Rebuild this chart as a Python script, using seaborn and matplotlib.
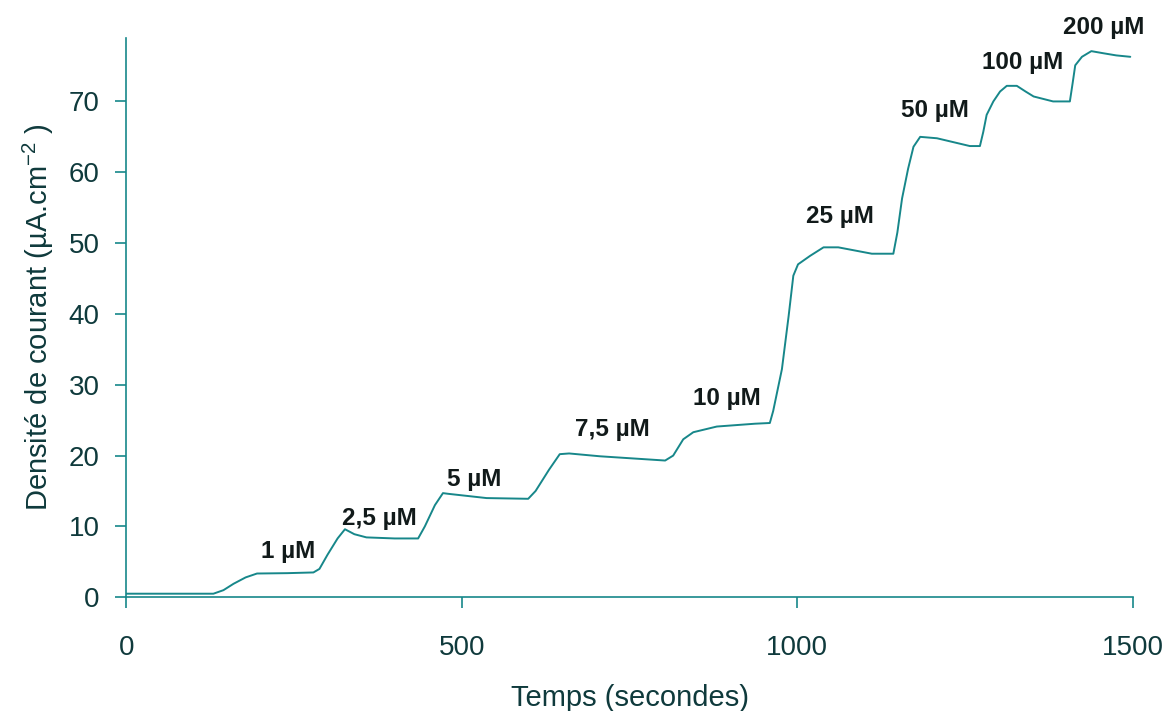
import numpy as np
import pandas as pd
import seaborn as sns
import matplotlib.pyplot as plt

# Chronoamperometry trace
temps = [0, 130, 145, 160, 178, 195, 240, 279, 288, 300, 315, 326, 340, 358,
         400, 435, 445, 460, 472, 480, 537, 599, 610, 630, 646, 660, 706, 803,
         815, 830, 845, 880, 937, 959, 964, 977, 987, 994, 1001, 1019, 1039,
         1061, 1111, 1143, 1149, 1156, 1165, 1173, 1183, 1208, 1257, 1272,
         1277, 1282, 1292, 1302, 1312, 1327, 1340, 1352, 1381, 1406, 1410,
         1414, 1424, 1438, 1456, 1475, 1496]
courant = [0.5, 0.5, 1.0, 1.9, 2.8, 3.35, 3.4, 3.5, 4.0, 6.0, 8.3, 9.6, 8.9,
           8.45, 8.3, 8.3, 10.0, 13.0, 14.7, 14.6, 14.0, 13.9, 15.0, 18.0,
           20.2, 20.3, 19.9, 19.3, 20.0, 22.3, 23.3, 24.1, 24.5, 24.6, 26.3,
           32.2, 39.7, 45.4, 47.0, 48.2, 49.4, 49.4, 48.5, 48.5, 51.5, 56.3,
           60.5, 63.6, 65.0, 64.8, 63.7, 63.7, 65.7, 68.1, 70.0, 71.4, 72.2,
           72.2, 71.4, 70.7, 70.0, 70.0, 72.5, 75.1, 76.3, 77.1, 76.8, 76.5,
           76.3]

# Concentration labels and where they sit (t, j)
conc_labels = ['1 µM', '2,5 µM', '5 µM', '7,5 µM', '10 µM',
               '25 µM', '50 µM', '100 µM', '200 µM']
label_t = [241, 377, 518, 724, 895, 1064, 1205, 1336, 1457]
label_j = [6.4, 11.1, 16.6, 23.7, 28.1, 53.7, 68.7, 75.5, 80.5]

df = pd.DataFrame({'t': temps, 'j': courant})

sns.set_style('white')
plt.rcParams['font.family'] = ['Liberation Sans', 'DejaVu Sans']

line_col = '#17878a'
text_col = '#0f3a3c'

fig = plt.figure(figsize=(11.68, 7.11), dpi=100)
ax = fig.add_axes([0.108, 0.160, 0.862, 0.787])

sns.lineplot(data=df, x='t', y='j', ax=ax, color=line_col, lw=1.4,
             sort=False, estimator=None)

for lab, tx, jy in zip(conc_labels, label_t, label_j):
    ax.text(tx, jy, lab, ha='center', va='center', fontsize=17.5,
            fontweight='bold', color='#111a1a', clip_on=False)

ax.set_xlim(0, 1500)
ax.set_ylim(0, 79)
ax.set_xticks([0, 500, 1000, 1500])
ax.set_yticks(range(0, 80, 10))

sns.despine(ax=ax)
for s in ['left', 'bottom']:
    ax.spines[s].set_color(line_col)
    ax.spines[s].set_linewidth(1.2)
ax.tick_params(axis='both', direction='out', length=8, width=1.2,
               color=line_col, labelsize=20, labelcolor=text_col)
ax.tick_params(axis='x', pad=19, bottom=True)
ax.tick_params(axis='y', pad=11, left=True)

ax.set_xlabel('Temps (secondes)', fontsize=21, color=text_col, labelpad=17)
ax.set_ylabel('Densité de courant (µA.cm$^{\\mathregular{-2}}$ )', fontsize=21,
              color=text_col, labelpad=9)

fig.savefig('out.png', dpi=100)
